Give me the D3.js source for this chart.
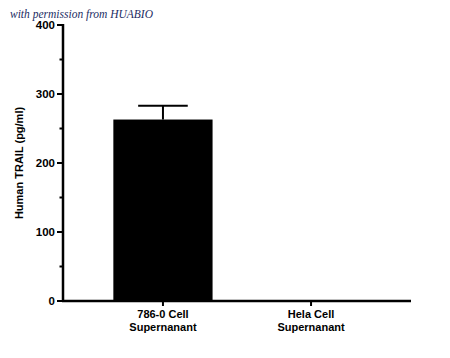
<!DOCTYPE html>
<html>
<head>
<meta charset="utf-8">
<script src="https://cdn.jsdelivr.net/npm/d3@7"></script>
<style>
  body { margin: 0; background: #fff; }
  text { font-family: "Liberation Sans", Arial, sans-serif; font-weight: bold; }
</style>
</head>
<body>
<div id="chart"></div>
<script>
const categories = ["786-0 Cell\nSupernanant", "Hela Cell\nSupernanant"];
const means = [263, 0];
const errors = [20, 0];
const yTicks = [0, 100, 200, 300, 400];
const yMinorTicks = [50, 150, 250, 350];

const width = 450, height = 358;
const svg = d3.select("#chart").append("svg")
    .attr("width", width)
    .attr("height", height);

// watermark
svg.append("text")
    .attr("x", 10)
    .attr("y", 18)
    .attr("fill", "#1c2c63")
    .style("font-family", "'Liberation Serif', 'DejaVu Serif', serif")
    .style("font-style", "italic")
    .style("font-weight", "normal")
    .style("font-size", "11.5px")
    .text("with permission from HUABIO");

const x = d3.scaleBand()
    .domain(categories)
    .range([63, 411])
    .paddingInner(0.33)
    .paddingOuter(0.34);

const y = d3.scaleLinear()
    .domain([0, 400])
    .range([301, 25]);

// bars
svg.append("g")
    .selectAll("rect")
    .data(means)
    .enter().append("rect")
    .attr("x", (d, i) => x(categories[i]))
    .attr("y", d => y(d))
    .attr("width", x.bandwidth())
    .attr("height", d => y(0) - y(d))
    .attr("fill", "#000");

// error bars (upper only)
const err = svg.append("g").attr("stroke", "#000").attr("stroke-width", 2);
means.forEach((m, i) => {
    if (m <= 0) return;
    const cx = x(categories[i]) + x.bandwidth() / 2;
    err.append("line")
        .attr("x1", cx).attr("x2", cx)
        .attr("y1", y(m)).attr("y2", y(m + errors[i]));
    err.append("line")
        .attr("x1", cx - x.bandwidth() / 4).attr("x2", cx + x.bandwidth() / 4)
        .attr("y1", y(m + errors[i])).attr("y2", y(m + errors[i]));
});

// y axis
const yAxis = svg.append("g").attr("transform", "translate(63,0)");
yAxis.append("line")
    .attr("x1", 0).attr("x2", 0)
    .attr("y1", y(400) - 1).attr("y2", y(0) + 1)
    .attr("stroke", "#000").attr("stroke-width", 2.5);
yAxis.selectAll(".major")
    .data(yTicks)
    .enter().append("line")
    .attr("x1", -6).attr("x2", 0)
    .attr("y1", d => y(d)).attr("y2", d => y(d))
    .attr("stroke", "#000").attr("stroke-width", 2);
yAxis.selectAll(".minor")
    .data(yMinorTicks)
    .enter().append("line")
    .attr("x1", -3.5).attr("x2", 0)
    .attr("y1", d => y(d)).attr("y2", d => y(d))
    .attr("stroke", "#000").attr("stroke-width", 2);
yAxis.selectAll("text")
    .data(yTicks)
    .enter().append("text")
    .attr("x", -8)
    .attr("y", d => y(d))
    .attr("dy", "0.36em")
    .attr("text-anchor", "end")
    .style("font-size", "11.5px")
    .text(d => d);

svg.append("text")
    .attr("transform", "translate(23,163) rotate(-90)")
    .attr("text-anchor", "middle")
    .style("font-size", "11px")
    .text("Human TRAIL (pg/ml)");

// x axis
const xAxis = svg.append("g").attr("transform", `translate(0,${y(0)})`);
xAxis.append("line")
    .attr("x1", 62).attr("x2", 411)
    .attr("stroke", "#000").attr("stroke-width", 2.5);
xAxis.selectAll(".tick")
    .data(categories)
    .enter().append("line")
    .attr("x1", d => x(d) + x.bandwidth() / 2)
    .attr("x2", d => x(d) + x.bandwidth() / 2)
    .attr("y1", 0).attr("y2", 5)
    .attr("stroke", "#000").attr("stroke-width", 2);
xAxis.selectAll("text")
    .data(categories)
    .enter().append("text")
    .attr("x", d => x(d) + x.bandwidth() / 2)
    .attr("y", 17)
    .attr("text-anchor", "middle")
    .style("font-size", "11px")
    .each(function(d) {
        const lines = d.split("\n");
        d3.select(this).selectAll("tspan")
            .data(lines)
            .enter().append("tspan")
            .attr("x", x(d) + x.bandwidth() / 2)
            .attr("dy", (l, i) => i === 0 ? 0 : 13)
            .text(l => l);
    });
</script>
</body>
</html>
